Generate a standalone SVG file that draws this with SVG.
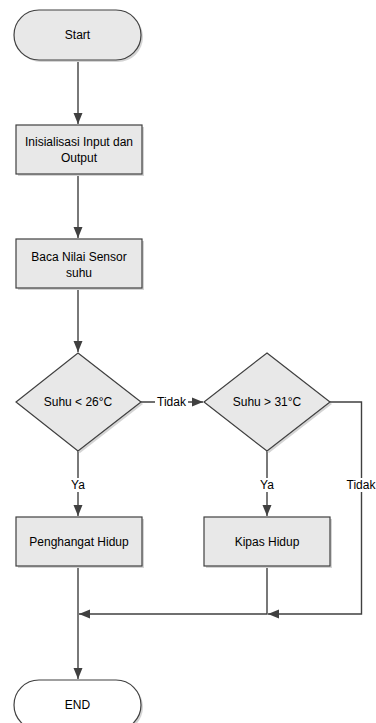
<svg xmlns="http://www.w3.org/2000/svg" width="376" height="723" viewBox="0 0 376 723">
  <style>
    .shape { fill: #e8e8e8; stroke: #404040; stroke-width: 1.2; }
    .term-end { fill: #ffffff; stroke: #404040; stroke-width: 1.2; }
    .shadow { fill: #d4d4d4; stroke: none; }
    .lbl { font-family: "Liberation Sans", Arial, sans-serif; font-size: 12px; fill: #000; text-anchor: middle; dominant-baseline: central; }
    .conn { fill: none; stroke: #404040; stroke-width: 1.4; }
    .bg { fill: #ffffff; }
  </style>
  <defs>
    <marker id="arrow" markerUnits="userSpaceOnUse" markerWidth="12" markerHeight="12" viewBox="0 0 12 12" refX="11" refY="6" orient="auto">
      <path d="M0,1.5 L11,6 L0,10.5 Z" fill="#404040"/>
    </marker>
  </defs>

  <rect width="376" height="723" fill="#ffffff"/>

  <g id="connectors">
    <line class="conn" x1="78" y1="60" x2="78" y2="124" marker-end="url(#arrow)"/>
    <line class="conn" x1="78" y1="174" x2="78" y2="238" marker-end="url(#arrow)"/>
    <line class="conn" x1="78" y1="288" x2="78" y2="352" marker-end="url(#arrow)"/>
    <line class="conn" x1="141" y1="402" x2="203" y2="402" marker-end="url(#arrow)"/>
    <line class="conn" x1="78" y1="451" x2="78" y2="516" marker-end="url(#arrow)"/>
    <line class="conn" x1="267" y1="451" x2="267" y2="516" marker-end="url(#arrow)"/>
    <polyline class="conn" points="330,402 361.5,402 361.5,614 268,614" marker-end="url(#arrow)"/>
    <polyline class="conn" points="267,566 267,614 79,614" marker-end="url(#arrow)"/>
    <line class="conn" x1="78" y1="566" x2="78" y2="679" marker-end="url(#arrow)"/>
    <rect class="bg" x="155" y="395" width="33" height="14"/>
    <text class="lbl" x="171.5" y="402">Tidak</text>
    <rect class="bg" x="70" y="478" width="16" height="14"/>
    <text class="lbl" x="78" y="485">Ya</text>
    <rect class="bg" x="259" y="478" width="16" height="14"/>
    <text class="lbl" x="267" y="485">Ya</text>
    <rect class="bg" x="345" y="478" width="31" height="14"/>
    <text class="lbl" x="361" y="485">Tidak</text>
  </g>

  <g id="start">
    <rect class="shadow" x="16" y="12" width="127" height="50" rx="25"/>
    <rect class="shape" x="14" y="10" width="127" height="50" rx="25"/>
    <text class="lbl" x="77.5" y="35">Start</text>
  </g>

  <g id="init">
    <rect class="shadow" x="18" y="127" width="126" height="49"/>
    <rect class="shape" x="16" y="125" width="126" height="49"/>
    <text class="lbl" x="79" y="142">Inisialisasi Input dan</text>
    <text class="lbl" x="79" y="158">Output</text>
  </g>

  <g id="baca">
    <rect class="shadow" x="18" y="241" width="126" height="49"/>
    <rect class="shape" x="16" y="239" width="126" height="49"/>
    <text class="lbl" x="79" y="257">Baca Nilai Sensor</text>
    <text class="lbl" x="79" y="273">suhu</text>
  </g>

  <g id="cek26">
    <polygon class="shadow" points="80,355 143,404 80,453 18,404"/>
    <polygon class="shape" points="78,353 141,402 78,451 16,402"/>
    <text class="lbl" x="78" y="402">Suhu &lt; 26°C</text>
  </g>

  <g id="cek31">
    <polygon class="shadow" points="269,355 332,404 269,453 206,404"/>
    <polygon class="shape" points="267,353 330,402 267,451 204,402"/>
    <text class="lbl" x="267" y="402">Suhu &gt; 31°C</text>
  </g>

  <g id="penghangat">
    <rect class="shadow" x="18" y="519" width="126" height="49"/>
    <rect class="shape" x="16" y="517" width="126" height="49"/>
    <text class="lbl" x="79" y="542">Penghangat Hidup</text>
  </g>

  <g id="kipas">
    <rect class="shadow" x="206" y="519" width="126" height="49"/>
    <rect class="shape" x="204" y="517" width="126" height="49"/>
    <text class="lbl" x="267" y="542">Kipas Hidup</text>
  </g>

  <g id="end">
    <rect class="shadow" x="16" y="682" width="127" height="50" rx="25"/>
    <rect class="term-end" x="14" y="680" width="127" height="50" rx="25"/>
    <text class="lbl" x="77.5" y="705">END</text>
  </g>
</svg>
